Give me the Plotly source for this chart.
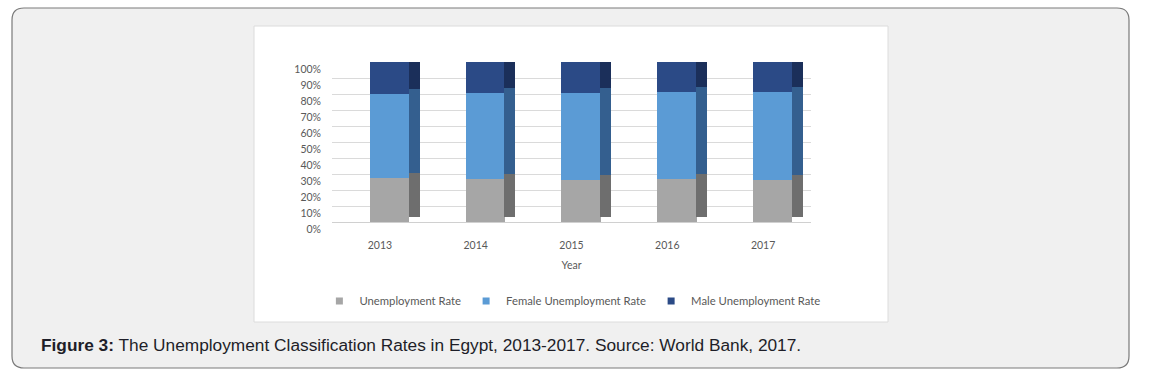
import plotly.graph_objects as go

years = ["2013", "2014", "2015", "2016", "2017"]
unemployment_rate = [27.6, 27.1, 26.5, 27.1, 26.3]
female_rate = [52.7, 53.3, 54.3, 54.2, 55.1]
male_rate = [19.7, 19.6, 19.2, 18.7, 18.6]
y_ticks = list(range(0, 101, 10))
y_tick_labels = [f"{v}%" for v in y_ticks]

series = [
    ("Unemployment Rate", unemployment_rate, "#a6a6a6", "#6e6e6e"),
    ("Female Unemployment Rate", female_rate, "#5b9bd5", "#345f8f"),
    ("Male Unemployment Rate", male_rate, "#2b4a86", "#1b2f5a"),
]

W, H = 1154, 382
fig = go.Figure()

# side faces (3D look) on overlaid axes
for name, vals, front, side in series:
    fig.add_trace(go.Bar(x=years, y=vals, name=name, marker=dict(color=side, line=dict(width=0)),
                         offset=0.30, width=0.115, xaxis="x2", yaxis="y2", showlegend=False,
                         hoverinfo="skip"))
# front faces
for name, vals, front, side in series:
    fig.add_trace(go.Bar(x=years, y=vals, name=name, marker=dict(color=front, line=dict(width=0)),
                         offset=-0.105, width=0.41, showlegend=False))
# legend entries
for name, vals, front, side in series:
    fig.add_trace(go.Scatter(x=[None], y=[None], mode="markers", name=name,
                             marker=dict(symbol="square", size=7, color=front)))

px_x = lambda p: p / W
px_y = lambda p: 1 - p / H

def rrect(x0, y0, x1, y1, r):
    rx, ry = r / W, r / H
    X0, X1 = px_x(x0), px_x(x1)
    Y0, Y1 = px_y(y0), px_y(y1)
    return (f"M {X0+rx},{Y0} L {X1-rx},{Y0} Q {X1},{Y0} {X1},{Y0-ry} "
            f"L {X1},{Y1+ry} Q {X1},{Y1} {X1-rx},{Y1} L {X0+rx},{Y1} "
            f"Q {X0},{Y1} {X0},{Y1+ry} L {X0},{Y0-ry} Q {X0},{Y0} {X0+rx},{Y0} Z")

shapes = [
    dict(type="path", xref="paper", yref="paper", path=rrect(12, 8, 1129, 368, 12),
         fillcolor="#f0f0f0", line=dict(color="#7a7a7a", width=1.2), layer="below"),
    dict(type="rect", xref="paper", yref="paper", x0=px_x(254), x1=px_x(888), y0=px_y(322), y1=px_y(26),
         fillcolor="#ffffff", line=dict(color="#dcdcdc", width=1), layer="below"),
]

tickfont = dict(family="Lato, Carlito, sans-serif", size=10.5, color="#595959")
shift = 5 / 160 * 100

fig.update_layout(
    width=W, height=H,
    margin=dict(l=0, r=0, t=0, b=0, autoexpand=False),
    paper_bgcolor="#ffffff",
    plot_bgcolor="rgba(0,0,0,0)",
    barmode="stack",
    bargap=0.0,
    shapes=shapes,
    xaxis=dict(domain=[px_x(332), px_x(811)], type="category", showgrid=False, showline=False,
               ticks="", tickfont=tickfont, ticklabelstandoff=15, automargin=False,
               title=dict(text="Year", font=tickfont, standoff=12)),
    yaxis=dict(domain=[px_y(222), px_y(62)], range=[0, 100], tickvals=y_ticks, ticktext=y_tick_labels,
               gridcolor="#dadada", gridwidth=1, zeroline=True, zerolinecolor="#d0d0d0",
               zerolinewidth=1, showline=False, automargin=False,
               tickfont=tickfont, ticklabelshift=7, ticklabelstandoff=10),
    xaxis2=dict(overlaying="x", type="category", visible=False, categoryorder="array",
                categoryarray=years, anchor="y2"),
    yaxis2=dict(overlaying="y", range=[-shift, 100 - shift], visible=False, anchor="x2"),
    legend=dict(orientation="h", x=0.496, xanchor="center", y=px_y(301), yanchor="middle",
                font=dict(family="Lato, Carlito, sans-serif", size=11.3, color="#595959"),
                bgcolor="rgba(0,0,0,0)", itemwidth=30, traceorder="normal"),
    annotations=[dict(xref="paper", yref="paper", x=px_x(39), y=px_y(345), xanchor="left",
                      yanchor="middle", showarrow=False,
                      text="<b>Figure 3:</b> The Unemployment Classification Rates in Egypt, 2013-2017. Source: World Bank, 2017.",
                      font=dict(family="Liberation Sans, Arial, sans-serif", size=17.3, color="#1e1e28"))],
)

fig.write_html("out.html", config={"displayModeBar": False},
               post_script="document.body.style.margin='0';")
